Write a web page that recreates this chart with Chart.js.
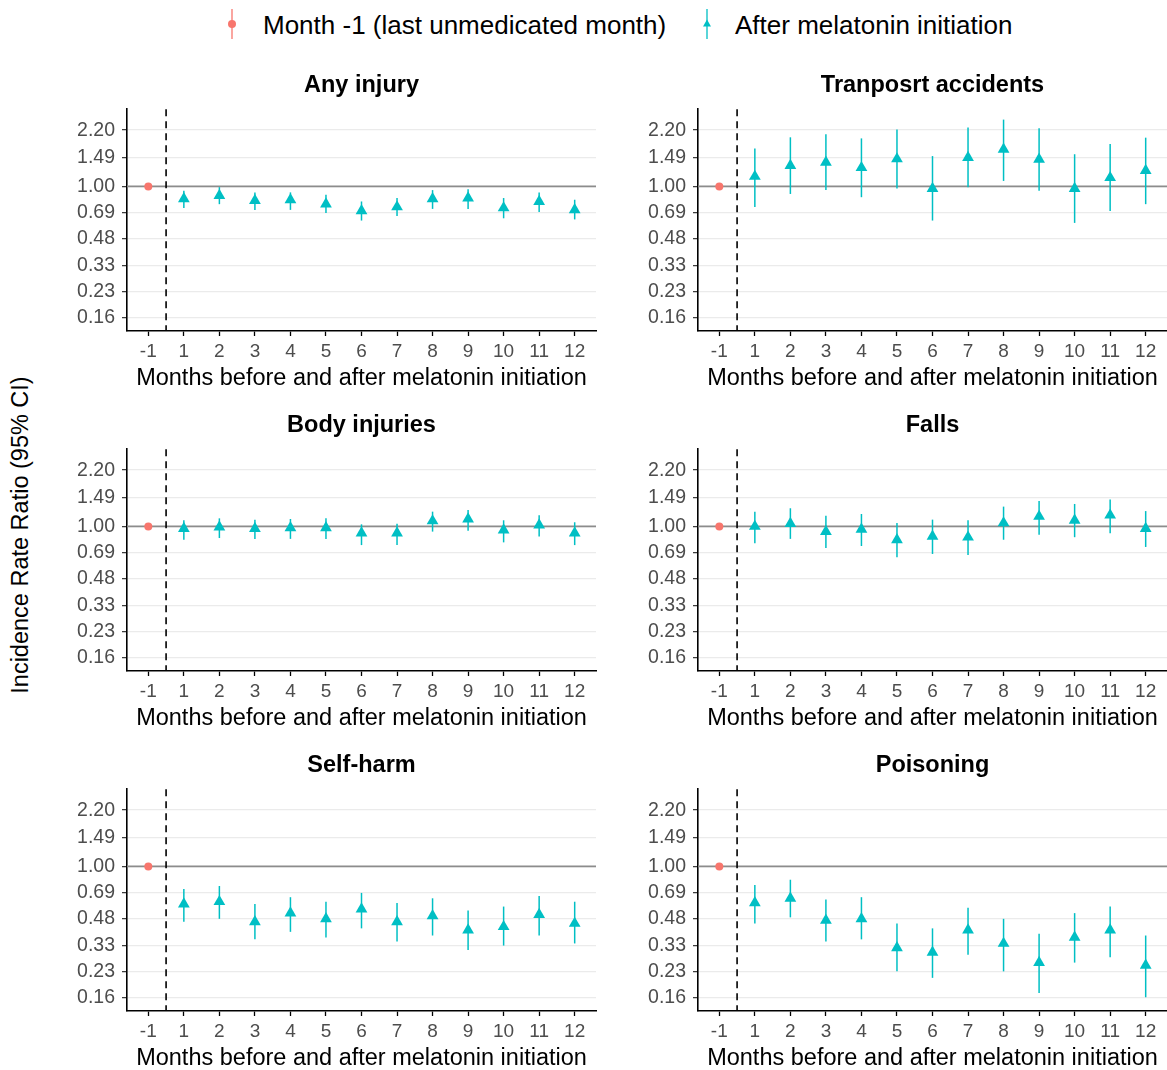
<!DOCTYPE html>
<html>
<head>
<meta charset="utf-8">
<script src="https://cdn.jsdelivr.net/npm/chart.js@4.4.0/dist/chart.umd.min.js"></script>
<style>
  body { margin: 0; background: #fff; font-family: 'Liberation Sans', Arial, sans-serif; }
  #fig { position: relative; width: 1167px; height: 1070px; overflow: hidden; background: #fff; }
  #fig canvas { position: absolute; }
  .legtxt { position: absolute; top: 9px; font-size: 26px; line-height: 32px; color: #000; white-space: nowrap; }
  .legkey { position: absolute; top: 8px; }
  #ytitle { position: absolute; left: 20px; top: 535px; font-size: 23.5px; white-space: nowrap;
            transform: translate(-50%, -50%) rotate(-90deg); color: #000; }
</style>
</head>
<body>
<div id="fig">
  <svg class="legkey" style="left:224px" width="16" height="34">
    <line x1="8" y1="1" x2="8" y2="31" stroke="#F8766D" stroke-width="1.3"/>
    <circle cx="8" cy="16" r="4" fill="#F8766D"/>
  </svg>
  <div class="legtxt" style="left:263px">Month -1 (last unmedicated month)</div>
  <svg class="legkey" style="left:699px" width="16" height="34">
    <line x1="8" y1="1" x2="8" y2="31" stroke="#00BFC4" stroke-width="1.3"/>
    <polygon points="8,11.5 12,18.5 4,18.5" fill="#00BFC4"/>
  </svg>
  <div class="legtxt" style="left:735px">After melatonin initiation</div>
  <div id="ytitle">Incidence Rate Ratio (95% CI)</div>
</div>
<script>
// categories and axis ticks
var months = ['-1', '1', '2', '3', '4', '5', '6', '7', '8', '9', '10', '11', '12'];
var yTicks = [0.16, 0.23, 0.33, 0.48, 0.69, 1.00, 1.49, 2.20];
var panelTitles = ['Any injury', 'Tranposrt accidents', 'Body injuries', 'Falls', 'Self-harm', 'Poisoning'];

// month -1 is the reference (IRR = 1)
var baseline = [1.00];

// months 1..12 after initiation: estimate, lower and upper 95% CI
var anyInjuryEst = [0.84, 0.88, 0.82, 0.83, 0.78, 0.71, 0.75, 0.84, 0.85, 0.74, 0.81, 0.72];
var anyInjuryLo  = [0.74, 0.78, 0.72, 0.72, 0.69, 0.62, 0.66, 0.73, 0.73, 0.64, 0.70, 0.63];
var anyInjuryHi  = [0.94, 0.99, 0.92, 0.92, 0.89, 0.81, 0.85, 0.95, 0.96, 0.85, 0.92, 0.83];

var transportEst = [1.15, 1.34, 1.40, 1.30, 1.47, 0.97, 1.50, 1.68, 1.46, 0.97, 1.13, 1.25];
var transportLo  = [0.75, 0.90, 0.95, 0.86, 0.97, 0.62, 0.99, 1.08, 0.94, 0.60, 0.71, 0.78];
var transportHi  = [1.70, 1.99, 2.08, 1.96, 2.22, 1.53, 2.28, 2.55, 2.26, 1.57, 1.81, 1.98];

var bodyEst = [0.97, 0.99, 0.97, 0.98, 0.98, 0.91, 0.91, 1.08, 1.11, 0.95, 1.02, 0.91];
var bodyLo  = [0.83, 0.85, 0.84, 0.84, 0.84, 0.77, 0.77, 0.93, 0.94, 0.80, 0.87, 0.77];
var bodyHi  = [1.09, 1.12, 1.10, 1.11, 1.12, 1.03, 1.04, 1.23, 1.26, 1.09, 1.17, 1.06];

var fallsEst = [1.00, 1.04, 0.93, 0.96, 0.83, 0.87, 0.86, 1.05, 1.15, 1.09, 1.17, 0.97];
var fallsLo  = [0.79, 0.84, 0.74, 0.76, 0.65, 0.68, 0.67, 0.83, 0.89, 0.86, 0.91, 0.75];
var fallsHi  = [1.23, 1.29, 1.16, 1.19, 1.05, 1.10, 1.09, 1.32, 1.43, 1.37, 1.46, 1.24];

var selfHarmEst = [0.59, 0.61, 0.46, 0.52, 0.48, 0.55, 0.46, 0.50, 0.41, 0.43, 0.51, 0.45];
var selfHarmLo  = [0.46, 0.48, 0.36, 0.40, 0.37, 0.42, 0.35, 0.38, 0.31, 0.33, 0.38, 0.34];
var selfHarmHi  = [0.73, 0.76, 0.59, 0.65, 0.61, 0.69, 0.60, 0.64, 0.54, 0.57, 0.66, 0.61];

var poisonEst = [0.60, 0.64, 0.47, 0.48, 0.32, 0.30, 0.41, 0.34, 0.26, 0.37, 0.41, 0.25];
var poisonLo  = [0.45, 0.49, 0.35, 0.36, 0.23, 0.21, 0.29, 0.23, 0.17, 0.26, 0.28, 0.16];
var poisonHi  = [0.77, 0.83, 0.63, 0.65, 0.45, 0.42, 0.56, 0.48, 0.39, 0.52, 0.57, 0.38];

var panels = [
    { est: anyInjuryEst, lo: anyInjuryLo, hi: anyInjuryHi },
    { est: transportEst, lo: transportLo, hi: transportHi },
    { est: bodyEst, lo: bodyLo, hi: bodyHi },
    { est: fallsEst, lo: fallsLo, hi: fallsHi },
    { est: selfHarmEst, lo: selfHarmLo, hi: selfHarmHi },
    { est: poisonEst, lo: poisonLo, hi: poisonHi }
];

var RED = '#F8766D', TEAL = '#00BFC4';
Chart.defaults.font.family = "'Liberation Sans', Arial, sans-serif";

// reference line at 1, dashed split between month -1 and 1, and the CI bars
var refLines = {
    id: 'refLines',
    beforeDatasetsDraw: function (chart) {
        var ctx = chart.ctx, a = chart.chartArea, x = chart.scales.x, y = chart.scales.y;
        ctx.save();
        var y1 = y.getPixelForValue(1);
        ctx.strokeStyle = '#8C8C8C';
        ctx.lineWidth = 1.8;
        ctx.beginPath(); ctx.moveTo(a.left, y1); ctx.lineTo(a.right, y1); ctx.stroke();

        var xv = x.getPixelForValue(1.5);
        ctx.setLineDash([7, 5]);
        ctx.strokeStyle = '#000';
        ctx.lineWidth = 1.6;
        ctx.beginPath(); ctx.moveTo(xv, a.top); ctx.lineTo(xv, a.bottom); ctx.stroke();
        ctx.setLineDash([]);

        chart.data.datasets.forEach(function (ds) {
            ctx.strokeStyle = ds.backgroundColor;
            ctx.lineWidth = 1.5;
            ds.data.forEach(function (pt, i) {
                var px = x.getPixelForValue(pt.x);
                ctx.beginPath();
                ctx.moveTo(px, y.getPixelForValue(ds.lo[i]));
                ctx.lineTo(px, y.getPixelForValue(ds.hi[i]));
                ctx.stroke();
            });
        });
        ctx.restore();
    }
};

var fig = document.getElementById('fig');

panels.forEach(function (p, k) {
    var row = Math.floor(k / 2), col = k % 2;
    var cv = document.createElement('canvas');
    var w = col ? 556 : 560;
    cv.width = w;
    cv.height = 340;
    cv.style.left = (col ? 611 : 40) + 'px';
    cv.style.top = (60 + row * 340) + 'px';
    fig.appendChild(cv);

    new Chart(cv, {
        type: 'scatter',
        data: {
            datasets: [
                {
                    data: baseline.map(function (v) { return { x: 1, y: v }; }),
                    lo: baseline, hi: baseline,
                    pointStyle: 'circle', pointRadius: 4, borderWidth: 0,
                    backgroundColor: RED
                },
                {
                    data: p.est.map(function (v, i) { return { x: i + 2, y: v }; }),
                    lo: p.lo, hi: p.hi,
                    pointStyle: 'triangle', pointRadius: 6.8, borderWidth: 0,
                    backgroundColor: TEAL
                }
            ]
        },
        options: {
            responsive: false,
            animation: false,
            events: [],
            layout: { autoPadding: false, padding: { left: 0, right: col ? 0 : 4, top: 0, bottom: 0 } },
            plugins: {
                legend: { display: false },
                tooltip: { enabled: false },
                title: {
                    display: true, text: panelTitles[k], fullSize: false, color: '#000',
                    font: { size: 23.5, weight: 'bold' },
                    padding: { top: 11, bottom: 10 }
                }
            },
            scales: {
                x: {
                    type: 'linear', bounds: 'data', min: 0.4, max: 13.6,
                    afterBuildTicks: function (s) { s.ticks = months.map(function (m, i) { return { value: i + 1 }; }); },
                    afterFit: function (s) {
                        s.height = 69;
                        s.paddingLeft = 0;
                        s.paddingRight = 0;
                    },
                    ticks: {
                        callback: function (v, i) { return months[i]; },
                        color: '#4D4D4D', font: { size: 19 }, padding: 4, maxRotation: 0, autoSkip: false
                    },
                    grid: { drawOnChartArea: false, drawTicks: true, tickLength: 5, tickColor: '#000', tickWidth: 1.3 },
                    border: { display: true, color: '#000', width: 1.6 },
                    title: {
                        display: true, text: 'Months before and after melatonin initiation', color: '#000',
                        font: { size: 23.5 }, padding: { top: 0, bottom: 7 }
                    }
                },
                y: {
                    type: 'logarithmic', bounds: 'data', min: 0.132, max: 2.95,
                    afterBuildTicks: function (s) { s.ticks = yTicks.map(function (v) { return { value: v }; }); },
                    afterFit: function (s) {
                        s.width = 87;
                        s.paddingTop = 0;
                        s.paddingBottom = 0;
                    },
                    ticks: {
                        callback: function (v) { return Number(v).toFixed(2); },
                        color: '#4D4D4D', font: { size: 19.5 }, padding: 7, autoSkip: false
                    },
                    grid: { color: '#EBEBEB', lineWidth: 1.3, tickLength: 5, tickColor: '#333', tickWidth: 1.2 },
                    border: { color: '#000', width: 1.6 }
                }
            }
        },
        plugins: [refLines]
    });
});
</script>
</body>
</html>
